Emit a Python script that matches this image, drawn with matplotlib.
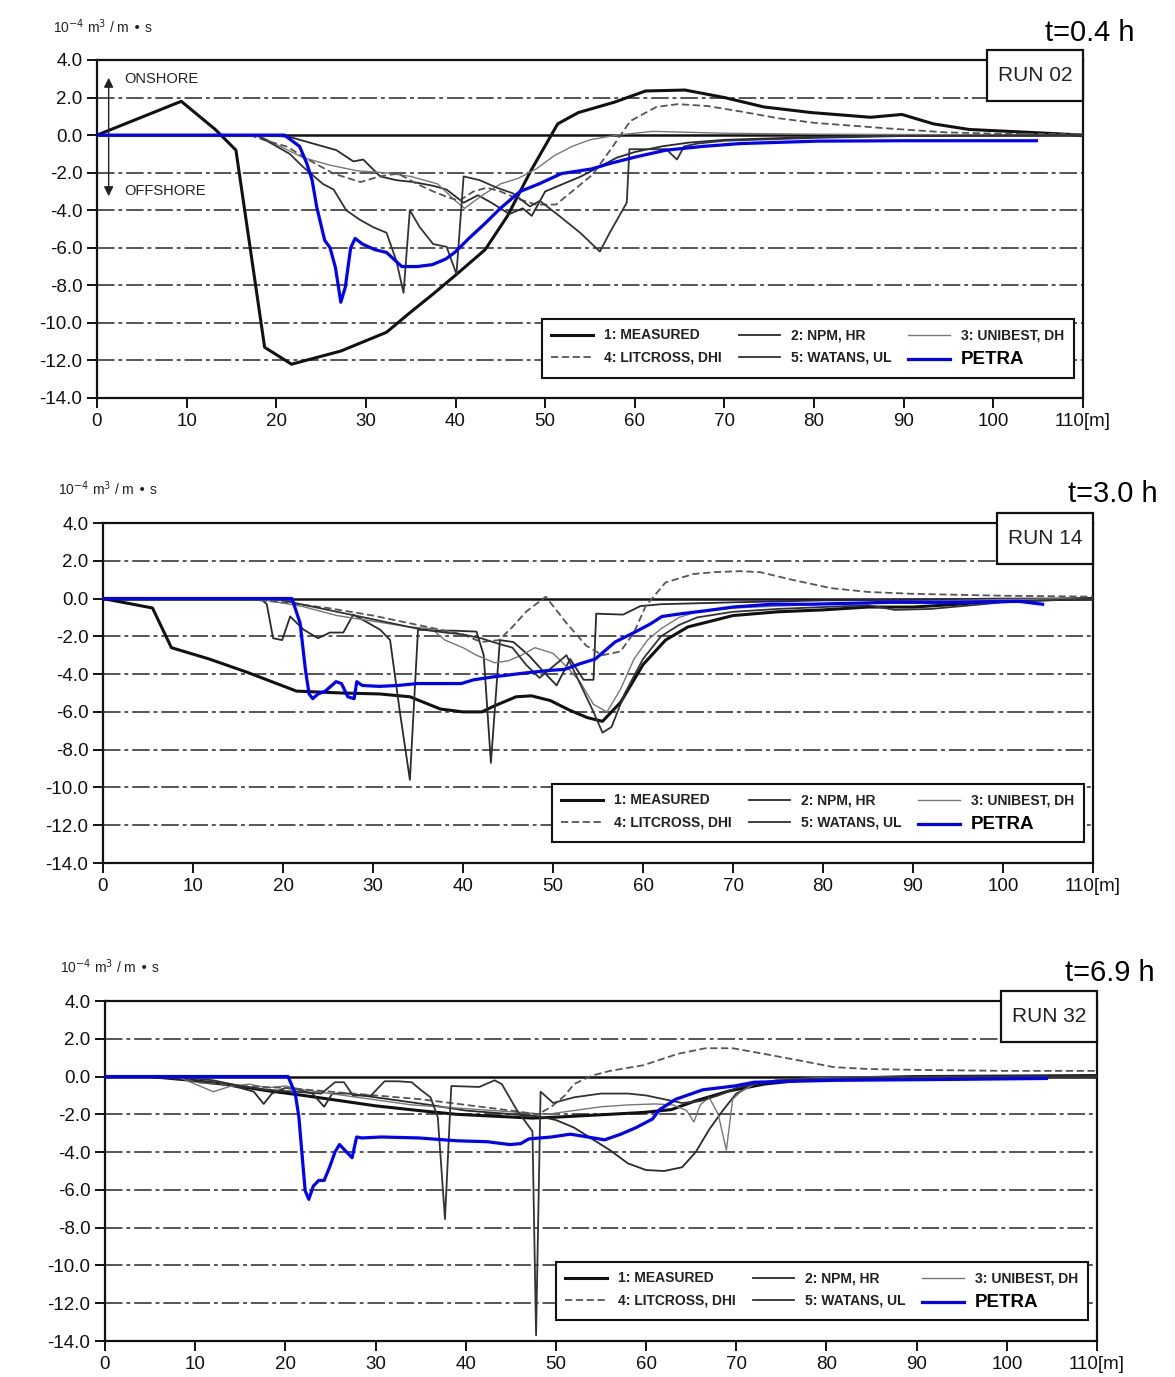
import matplotlib
matplotlib.use("Agg")
import matplotlib.pyplot as plt
from matplotlib.patches import Rectangle

plt.rcParams['font.family'] = ['Liberation Sans', 'DejaVu Sans']
plt.rcParams['axes.unicode_minus'] = False

x_ticks = [0, 10, 20, 30, 40, 50, 60, 70, 80, 90, 100, 110]
x_tick_labels = ['0', '10', '20', '30', '40', '50', '60', '70', '80', '90', '100', '110[m]']
y_ticks = [4.0, 2.0, 0.0, -2.0, -4.0, -6.0, -8.0, -10.0, -12.0, -14.0]
y_tick_labels = ['4.0', '2.0', '0.0', '-2.0', '-4.0', '-6.0', '-8.0', '-10.0', '-12.0', '-14.0']

series_names = ['1: MEASURED', '2: NPM, HR', '3: UNIBEST, DH', '4: LITCROSS, DHI', '5: WATANS, UL', 'PETRA']
run_labels = ['RUN 02', 'RUN 14', 'RUN 32']
time_labels = ['t=0.4 h', 't=3.0 h', 't=6.9 h']

# ---------------- RUN 02 (t = 0.4 h) ----------------
r02_meas_x = [0, 9.4, 13.2, 15.5, 18.7, 21.7, 27.2, 32.3, 34.8, 37.4, 39.9, 43.3, 45.8, 48.4, 51.4, 53.7, 57.7,
              61.2, 65.6, 70.0, 74.4, 79.7, 86.3, 89.8, 93.3, 97.3, 103.9, 110]
r02_meas_y = [0, 1.8, 0.3, -0.8, -11.3, -12.2, -11.5, -10.5, -9.5, -8.5, -7.5, -6.1, -4.3, -1.9, 0.6, 1.2, 1.75,
              2.35, 2.4, 2.0, 1.5, 1.2, 0.95, 1.1, 0.6, 0.3, 0.15, 0.0]
r02_npm_x = [19, 21.5, 24.1, 26.7, 28.6, 29.7, 31.6, 33.4, 35.3, 37.5, 39.0, 40.9, 42.5, 44.0, 46.0, 47.5, 48.5,
             50, 52, 54, 56, 58, 60, 63, 66, 70, 80, 90, 110]
r02_npm_y = [0, -0.1, -0.45, -0.8, -1.4, -1.3, -2.2, -2.4, -2.5, -2.7, -2.9, -3.6, -3.2, -3.6, -4.2, -3.9, -4.3,
             -3.0, -2.6, -2.2, -1.7, -1.2, -0.9, -0.6, -0.4, -0.25, -0.1, 0, 0]
r02_uni_x = [18, 20, 23, 26, 29, 32, 35, 38, 40, 41, 43, 45, 47, 49, 51, 53, 55, 58, 62, 66, 70, 80, 110]
r02_uni_y = [0, -0.5, -1.2, -1.6, -1.9, -2.0, -2.2, -2.6, -3.5, -3.9, -3.2, -2.6, -2.3, -1.8, -1.1, -0.6,
             -0.25, 0.0, 0.2, 0.15, 0.1, 0.05, 0.0]
r02_lit_x = [17, 18.7, 21.3, 23, 26.4, 29.4, 31.5, 33.6, 35.7, 37.5, 39.1, 40.4, 42, 43.5, 45, 47, 49, 51.2, 53,
             55.3, 57.4, 59.5, 62.4, 64.8, 68.1, 71.9, 76, 80.1, 84.3, 88.4, 94.6, 100, 110]
r02_lit_y = [0, -0.27, -0.63, -1.16, -2.05, -2.5, -2.2, -2.05, -2.6, -3.0, -3.3, -3.5, -3.0, -2.8, -3.0, -3.4,
             -3.7, -3.7, -3.0, -2.1, -0.7, 0.75, 1.5, 1.65, 1.55, 1.25, 0.9, 0.65, 0.5, 0.35, 0.15, 0.08, 0.05]
r02_wat_x = [17.5, 18.2, 21.5, 23.0, 25.2, 26.4, 27.8, 29.3, 30.8, 32.3, 33.4, 34.2, 34.9, 36.0, 37.5, 39.0, 40.1,
             40.9, 42.7, 44.6, 46.4, 48.3, 49.4, 51.3, 53.9, 56.1, 57.2, 59.1, 59.4, 63.5, 64.7, 65.5, 67, 70, 80,
             90, 110]
r02_wat_y = [0, -0.1, -1.0, -1.7, -2.6, -2.9, -4.0, -4.5, -4.9, -5.2, -6.7, -8.4, -4.0, -4.9, -5.8, -5.95, -7.4,
             -2.2, -2.4, -2.8, -3.1, -3.8, -3.5, -4.2, -5.2, -6.2, -5.2, -3.6, -0.75, -0.75, -1.3, -0.6, -0.45,
             -0.3, -0.15, -0.05, 0]
r02_petra_x = [0, 20.9, 22.6, 23.4, 24.0, 24.5, 24.9, 25.4, 26.0, 26.6, 27.2, 27.7, 28.3, 28.8, 29.6, 31.0, 32.3,
               34.0, 35.7, 37.4, 38.9, 39.9, 41.6, 43.3, 45.0, 47.2, 49.3, 51.8, 55.2, 57.3, 60.2, 63.5, 67.6,
               71.8, 80.4, 90, 95.3, 100, 104.8]
r02_petra_y = [0, 0, -0.6, -1.5, -2.4, -3.8, -4.6, -5.6, -6.0, -7.05, -8.9, -8.1, -6.0, -5.5, -5.8, -6.1, -6.25,
               -7.0, -7.0, -6.9, -6.6, -6.25, -5.45, -4.7, -3.9, -3.0, -2.6, -2.05, -1.8, -1.5, -1.15, -0.8, -0.6,
               -0.45, -0.32, -0.3, -0.3, -0.3, -0.3]

# ---------------- RUN 14 (t = 3.0 h) ----------------
r14_meas_x = [0, 5.5, 7.6, 11.8, 16, 21.5, 26.5, 30.7, 34.1, 37.5, 40, 42.1, 43.4, 45.9, 47.6, 49.7, 51.8, 53.8,
              55.5, 57.5, 60, 62.5, 65, 70, 75, 80, 85, 90, 95, 100, 110]
r14_meas_y = [0, -0.5, -2.6, -3.2, -3.9, -4.9, -5.0, -5.05, -5.2, -5.85, -6.0, -6.0, -5.7, -5.2, -5.15, -5.4,
              -5.9, -6.3, -6.5, -5.5, -3.5, -2.2, -1.5, -0.9, -0.7, -0.6, -0.45, -0.45, -0.3, -0.1, 0]
r14_npm_x = [17.5, 18.2, 18.9, 19.9, 20.8, 22.3, 23.9, 25.2, 26.7, 27.8, 29.5, 30.8, 31.9, 33.0, 34.1, 35.0, 37,
             39, 41.5, 42.3, 43.1, 44.1, 45.6, 47.4, 49, 50.4, 51.9, 53.4, 54.5, 54.8, 57.8, 59.7, 62, 66, 70, 80,
             90, 100, 110]
r14_npm_y = [0, -0.3, -2.1, -2.2, -0.95, -1.65, -2.1, -1.8, -1.8, -0.85, -1.3, -1.65, -2.2, -6.05, -9.6, -1.65,
             -1.7, -1.7, -1.75, -3.0, -8.7, -2.2, -2.3, -3.05, -3.9, -4.6, -3.2, -4.3, -4.3, -0.8, -0.85, -0.4,
             -0.3, -0.25, -0.2, -0.1, -0.05, 0, 0]
r14_uni_x = [17, 22, 26, 30, 34, 36.5, 38, 40, 41.5, 43.5, 45, 46.5, 48, 50, 51.5, 53, 54.5, 56, 57.5, 59, 60.5,
             62, 64, 66, 70, 75, 80, 90, 100, 110]
r14_uni_y = [0, -0.4, -0.9, -1.2, -1.5, -1.6, -2.2, -2.6, -3.0, -3.4, -3.3, -3.0, -2.6, -2.9, -3.6, -4.4, -5.6,
             -6.0, -4.8, -3.2, -2.2, -1.6, -1.0, -0.7, -0.5, -0.4, -0.3, -0.15, -0.05, 0]
r14_lit_x = [15, 20, 25, 30, 35, 40, 42, 44, 45.5, 47, 49.2, 51.5, 53.7, 55.5, 57.5, 59, 60.3, 62.5, 65.6, 68,
             70.8, 73, 76.5, 80.9, 85, 90, 100, 110]
r14_lit_y = [0, -0.2, -0.5, -0.9, -1.4, -1.9, -2.3, -2.2, -1.5, -0.7, 0.1, -1.3, -2.5, -3.0, -2.8, -1.8, -0.4,
             0.85, 1.3, 1.4, 1.45, 1.4, 1.0, 0.55, 0.35, 0.25, 0.15, 0.1]
r14_wat_x = [19, 25, 30, 35, 38, 40, 42, 44, 45.5, 47, 48.5, 50, 51.5, 53, 54.5, 55.5, 56.5, 58, 60, 62, 64, 66,
             70, 75, 80, 85, 88, 92, 100, 110]
r14_wat_y = [0, -0.6, -1.1, -1.6, -1.8, -1.9, -2.1, -2.4, -2.6, -3.5, -4.2, -3.6, -3.0, -4.5, -6.0, -7.1, -6.8,
             -5.0, -3.2, -2.0, -1.4, -1.0, -0.7, -0.55, -0.45, -0.35, -0.6, -0.55, -0.2, 0]
r14_petra_x = [0, 21.0, 21.9, 22.5, 22.9, 23.3, 23.9, 24.7, 25.9, 26.5, 27.2, 27.9, 28.2, 28.8, 30.7, 32.8, 34.9,
               37.0, 39.8, 41.2, 43.3, 46.7, 49.7, 51.3, 53.0, 54.7, 56.9, 59.0, 60.8, 62.1, 64.3, 66.9, 70, 74.3,
               78.7, 83, 87.4, 94, 101.8, 104.4]
r14_petra_y = [0, 0, -1.3, -3.8, -5.05, -5.3, -5.05, -4.9, -4.4, -4.5, -5.2, -5.3, -4.4, -4.6, -4.65, -4.6, -4.5,
               -4.5, -4.5, -4.3, -4.15, -3.95, -3.8, -3.75, -3.45, -3.2, -2.3, -1.8, -1.35, -0.95, -0.8, -0.65,
               -0.45, -0.3, -0.3, -0.25, -0.2, -0.2, -0.15, -0.3]

# ---------------- RUN 32 (t = 6.9 h) ----------------
r32_meas_x = [0, 5, 9.6, 14, 18, 22, 26.4, 30, 34.8, 39, 43.2, 47.4, 50, 55.9, 59.7, 62.8, 65.4, 69.3, 73.1, 77,
              80, 90, 110]
r32_meas_y = [0, 0, -0.2, -0.45, -0.75, -1.0, -1.3, -1.55, -1.8, -2.0, -2.1, -2.2, -2.15, -2.0, -1.9, -1.75,
              -1.3, -0.75, -0.4, -0.2, -0.1, 0.0, 0.05]
r32_npm_x = [5, 10, 13, 15, 16.5, 17.6, 18.5, 20, 21.5, 23, 24.3, 25.2, 27, 30, 33, 36, 40, 44, 48, 50, 52, 54,
             56, 58, 60, 62, 64, 65.5, 67, 68.5, 70, 72, 75, 80, 110]
r32_npm_y = [0, -0.2, -0.4, -0.6, -0.8, -1.45, -0.9, -0.6, -0.7, -0.9, -1.6, -0.9, -0.9, -1.1, -1.3, -1.5, -1.8,
             -1.95, -2.1, -2.3, -2.7, -3.3, -3.9, -4.6, -4.95, -5.0, -4.8, -4.0, -2.8, -1.8, -0.9, -0.4, -0.15,
             -0.05, 0]
r32_uni_x = [8, 10, 12, 14, 16, 18, 20, 22, 25, 28, 31, 34, 37, 40, 43, 46, 49, 52, 55, 58, 61, 63, 64.5, 65.3,
             66, 67, 68, 68.9, 69.6, 70.5, 72, 75, 80, 90, 110]
r32_uni_y = [0, -0.4, -0.8, -0.5, -0.4, -0.6, -0.5, -0.7, -0.9, -1.1, -1.3, -1.5, -1.6, -1.7, -1.8, -1.9, -2.0,
             -1.8, -1.6, -1.5, -1.45, -1.5, -1.8, -2.4, -1.5, -1.1, -2.0, -3.9, -1.2, -0.8, -0.4, -0.15, -0.05, 0, 0]
r32_lit_x = [8, 10, 15, 20, 25, 30, 35, 40, 45, 48, 49.5, 51, 52, 54, 56, 59.7, 63.5, 66.6, 69.6, 73.1, 76.9,
             80.8, 84.6, 90.3, 100, 110]
r32_lit_y = [0, -0.3, -0.5, -0.6, -0.8, -1.0, -1.2, -1.5, -1.8, -2.0, -1.6, -1.0, -0.4, 0.05, 0.3, 0.6, 1.2, 1.5,
             1.5, 1.2, 0.86, 0.5, 0.4, 0.35, 0.3, 0.3]
r32_wat_x = [8, 12, 15, 18, 21, 24, 25.5, 26.5, 27.5, 29.5, 31, 32.5, 34, 35, 36.1, 36.9, 37.7, 38.4, 41.5, 43.2,
             44, 45.7, 47.4, 47.8, 48.3, 49.7, 52, 55, 58, 60, 62, 64, 66, 68, 70, 73, 76, 80, 90, 110]
r32_wat_y = [0, -0.2, -0.5, -0.7, -0.8, -0.9, -0.3, -0.3, -1.0, -1.0, -0.25, -0.25, -0.3, -0.7, -1.1, -2.15,
             -7.55, -0.5, -0.55, -0.2, -0.4, -1.8, -2.9, -13.7, -0.8, -1.4, -1.1, -0.9, -0.9, -1.0, -1.2, -1.4,
             -1.3, -1.0, -0.6, -0.3, -0.15, -0.1, 0, 0]
r32_petra_x = [0, 20.3, 21.1, 21.5, 21.97, 22.2, 22.6, 23.1, 23.7, 24.3, 24.9, 25.5, 26.0, 26.6, 27.4, 27.9, 28.5,
               30.6, 34.8, 39.0, 42.4, 43.2, 44.9, 46.1, 47.0, 49.5, 51.6, 52.9, 55.4, 57.2, 58.9, 60.7, 61.5,
               63.3, 66.3, 69.8, 72, 76.4, 80.8, 94, 104.4]
r32_petra_y = [0, 0, -0.9, -2.15, -4.8, -6.05, -6.5, -5.8, -5.5, -5.5, -4.8, -4.0, -3.6, -3.9, -4.3, -3.2, -3.25,
               -3.2, -3.25, -3.4, -3.45, -3.5, -3.6, -3.55, -3.3, -3.2, -3.05, -3.15, -3.35, -3.05, -2.7, -2.25,
               -1.75, -1.2, -0.7, -0.5, -0.3, -0.25, -0.2, -0.15, -0.1]

# line styles for the six series (same order as series_names)
styles = [
    dict(color='#111111', lw=2.2, ls='-'),
    dict(color='#2a2a2a', lw=1.3, ls='-'),
    dict(color='#777777', lw=1.0, ls='-'),
    dict(color='#555555', lw=1.3, ls=(0, (4, 2))),
    dict(color='#333333', lw=1.3, ls='-'),
    dict(color='#0000ff', lw=2.3, ls='-'),
]


def draw_panel(ax, series, run_label, unit_text):
    ax.set_xlim(0, 110)
    ax.set_ylim(-14, 4)

    for yv in y_ticks[1:-1]:
        if yv == 0:
            ax.axhline(yv, color='#111111', lw=1.8, zorder=1)
        else:
            ax.axhline(yv, color='#555555', lw=1.4, ls=(0, (9, 2, 2, 2)), zorder=1)

    handles = []
    for (xs, ys), name, st in zip(series, series_names, styles):
        z = 5 if name == 'PETRA' else 3
        h, = ax.plot(xs, ys, color=st['color'], lw=st['lw'], ls=st['ls'], label=name, zorder=z)
        handles.append(h)

    ax.set_xticks(x_ticks)
    ax.set_xticklabels(x_tick_labels)
    ax.set_yticks(y_ticks)
    ax.set_yticklabels(y_tick_labels)
    ax.tick_params(direction='out', length=7, width=1.4, labelsize=13.5, colors='#111111')
    for sp in ax.spines.values():
        sp.set_linewidth(1.6)
        sp.set_color('#111111')

    # legend: order so that rows read 1,2,3 / 4,5,PETRA
    order = [0, 3, 1, 4, 2, 5]
    leg = ax.legend([handles[i] for i in order], [series_names[i] for i in order],
                    ncol=3, loc='lower right', bbox_to_anchor=(0.998, 0.04),
                    fontsize=10, handlelength=3.0, columnspacing=1.2, borderpad=0.7,
                    labelspacing=0.6, fancybox=False, framealpha=1, edgecolor='#111111')
    leg.get_frame().set_linewidth(1.5)
    for t in leg.get_texts():
        if t.get_text() == 'PETRA':
            t.set_fontsize(13.5)
            t.set_fontweight('bold')
        else:
            t.set_fontweight('bold')
            t.set_color('#222222')

    # run label box
    ax.add_patch(Rectangle((0.903, 0.88), 0.097, 0.15, transform=ax.transAxes, fill=True,
                           facecolor='white', edgecolor='#111111', lw=1.6, clip_on=False, zorder=6))
    ax.text(0.9515, 0.955, run_label, transform=ax.transAxes, ha='center', va='center',
            fontsize=15, color='#222222', zorder=7)

    ax.text(-0.045, 1.1, unit_text, transform=ax.transAxes, ha='left', va='center',
            fontsize=10, color='#222222')


fig = plt.figure(figsize=(11.75, 13.77), dpi=100)

rects = [
    [97 / 1175, 1 - 398 / 1377, 986 / 1175, 338 / 1377],
    [103 / 1175, 1 - 863 / 1377, 990 / 1175, 340 / 1377],
    [105 / 1175, 1 - 1341 / 1377, 992 / 1175, 340 / 1377],
]
all_series = [
    [(r02_meas_x, r02_meas_y), (r02_npm_x, r02_npm_y), (r02_uni_x, r02_uni_y),
     (r02_lit_x, r02_lit_y), (r02_wat_x, r02_wat_y), (r02_petra_x, r02_petra_y)],
    [(r14_meas_x, r14_meas_y), (r14_npm_x, r14_npm_y), (r14_uni_x, r14_uni_y),
     (r14_lit_x, r14_lit_y), (r14_wat_x, r14_wat_y), (r14_petra_x, r14_petra_y)],
    [(r32_meas_x, r32_meas_y), (r32_npm_x, r32_npm_y), (r32_uni_x, r32_uni_y),
     (r32_lit_x, r32_lit_y), (r32_wat_x, r32_wat_y), (r32_petra_x, r32_petra_y)],
]
time_pos = [(1045, 33), (1068, 494), (1065, 973)]
unit_text = '10$^{-4}$ m$^3$ / m • s'

for i in range(3):
    ax = fig.add_axes(rects[i])
    draw_panel(ax, all_series[i], run_labels[i], unit_text)
    fig.text(time_pos[i][0] / 1175, 1 - time_pos[i][1] / 1377, time_labels[i],
             ha='left', va='center', fontsize=21)
    if i == 0:
        ax.annotate('', xy=(1.3, 3.2), xytext=(1.3, -3.4),
                    arrowprops=dict(arrowstyle='<|-|>', color='#222222', lw=1.0,
                                    mutation_scale=14))
        ax.text(3.0, 3.0, 'ONSHORE', fontsize=10.5, color='#222222', va='center')
        ax.text(3.0, -2.95, 'OFFSHORE', fontsize=10.5, color='#222222', va='center')

fig.savefig('out.png', dpi=100)
